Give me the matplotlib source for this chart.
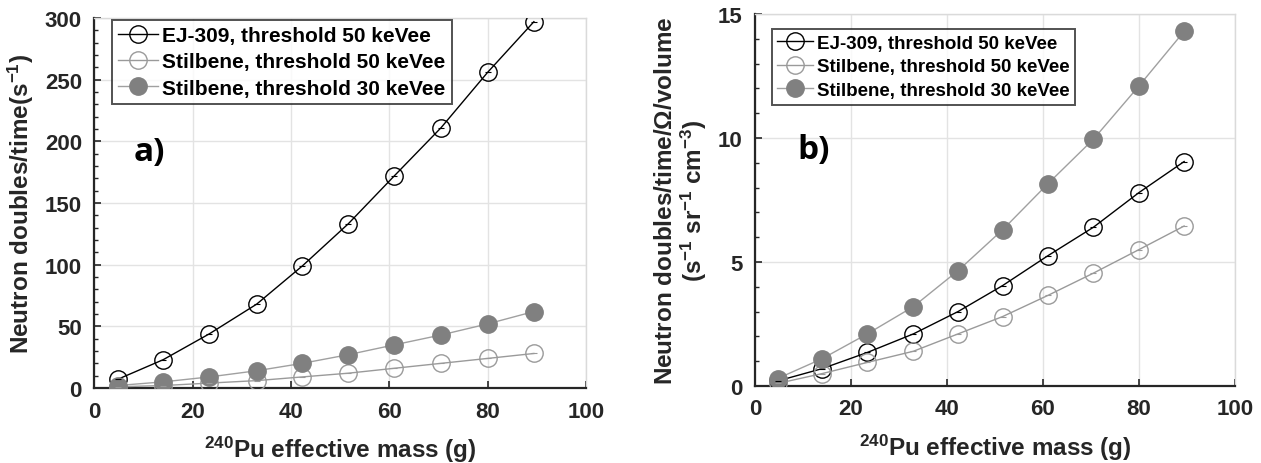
import matplotlib
matplotlib.use("Agg")
import matplotlib.pyplot as plt
from matplotlib.ticker import MultipleLocator

plt.rcParams["font.family"] = "Liberation Sans"
plt.rcParams["font.weight"] = "bold"
plt.rcParams["mathtext.fontset"] = "custom"
plt.rcParams["mathtext.rm"] = "Liberation Sans:bold"
plt.rcParams["mathtext.default"] = "rm"

mass = [4.7, 14.0, 23.4, 33.0, 42.3, 51.6, 61.0, 70.5, 80.0, 89.4]

# panel a) doubles per time
ej_a = [7, 23, 44, 68, 99, 133, 172, 211, 256, 297]
stil50_a = [1, 2, 4, 6, 9, 12, 16, 20, 24, 28]
stil30_a = [2, 5, 9, 14, 20, 27, 35, 43, 52, 62]

# panel b) doubles per time per solid angle per volume
ej_b = [0.2, 0.7, 1.35, 2.1, 3.0, 4.05, 5.25, 6.4, 7.8, 9.05]
stil50_b = [0.1, 0.5, 0.95, 1.4, 2.1, 2.8, 3.65, 4.55, 5.5, 6.45]
stil30_b = [0.3, 1.1, 2.1, 3.2, 4.65, 6.3, 8.15, 9.95, 12.1, 14.3]

labels = ["EJ-309, threshold 50 keVee",
          "Stilbene, threshold 50 keVee",
          "Stilbene, threshold 30 keVee"]

DARK = "#262626"


def panel(ax, series, ymax, ystep, yminor, ylabel, tag, tag_pos,
          legend_anchor, legend_size):
    styles = [
        dict(color="black", mec="black", mfc="none"),
        dict(color="#9a9a9a", mec="#9a9a9a", mfc="none"),
        dict(color="#a0a0a0", mec="#808080", mfc="#808080"),
    ]
    for ys, st, lab in zip(series, styles, labels):
        ax.plot(mass, ys, marker="o", markersize=12.5, linewidth=1.0,
                markeredgewidth=1.0, label=lab, zorder=3, **st)
        ax.plot(mass, ys, linestyle="none", marker="_", markersize=5,
                color=st["mec"], markeredgewidth=0.8, zorder=4)

    ax.set_xlim(0, 100)
    ax.set_ylim(0, ymax)
    ax.xaxis.set_major_locator(MultipleLocator(20))
    ax.yaxis.set_major_locator(MultipleLocator(ystep))
    ax.yaxis.set_minor_locator(MultipleLocator(yminor))
    ax.grid(True, color="#e3e3e3", linewidth=1.0)
    ax.set_axisbelow(True)
    ax.tick_params(direction="in", which="major", length=5, width=1.2,
                   labelsize=16, labelcolor=DARK, color=DARK, pad=9)
    ax.tick_params(direction="in", which="minor", length=3, width=1.0,
                   color=DARK, bottom=False)
    for s in ("left", "bottom"):
        ax.spines[s].set_color(DARK)
        ax.spines[s].set_linewidth(1.6)
    for s in ("top", "right"):
        ax.spines[s].set_color("#dadada")
        ax.spines[s].set_linewidth(1.0)
    for t in ax.get_xticklabels() + ax.get_yticklabels():
        t.set_fontweight("bold")

    ax.set_xlabel("$^{240}$Pu effective mass (g)", fontsize=17.5, color=DARK,
                  fontweight="bold", labelpad=9)
    ax.set_ylabel(ylabel, fontsize=17.5, color=DARK, fontweight="bold",
                  linespacing=1.1, labelpad=6)

    handles, labs = ax.get_legend_handles_labels()
    leg = ax.legend(handles[:3], labs[:3], loc="upper left",
                    bbox_to_anchor=legend_anchor,
                    prop={"weight": "bold", "size": legend_size},
                    frameon=True, fancybox=False, borderpad=0.3,
                    labelspacing=0.35, handlelength=1.9, handletextpad=0.2,
                    borderaxespad=0)
    leg.get_frame().set_edgecolor(DARK)
    leg.get_frame().set_linewidth(1.4)
    for t in leg.get_texts():
        t.set_color("black")

    ax.text(tag_pos[0], tag_pos[1], tag, transform=ax.transAxes, fontsize=24,
            fontweight="bold", family="Open Sans", color="black",
            ha="left", va="center")


fig = plt.figure(figsize=(12.61, 4.64), dpi=100)
ax1 = fig.add_axes([0.0749, 0.1616, 0.3898, 0.7974])
ax2 = fig.add_axes([0.5987, 0.1660, 0.3807, 0.8017])

panel(ax1, [ej_a, stil50_a, stil30_a], 300, 50, 10,
      "Neutron doubles/time(s$^{-1}$)", "a)", (0.08, 0.64), (0.036, 0.995), 15)
panel(ax2, [ej_b, stil50_b, stil30_b], 15, 5, 1,
      "Neutron doubles/time/$\\Omega$/volume\n(s$^{-1}$ sr$^{-1}$ cm$^{-3}$)",
      "b)", (0.088, 0.637), (0.035, 0.96), 13.5)

fig.savefig("out.png", dpi=100)
